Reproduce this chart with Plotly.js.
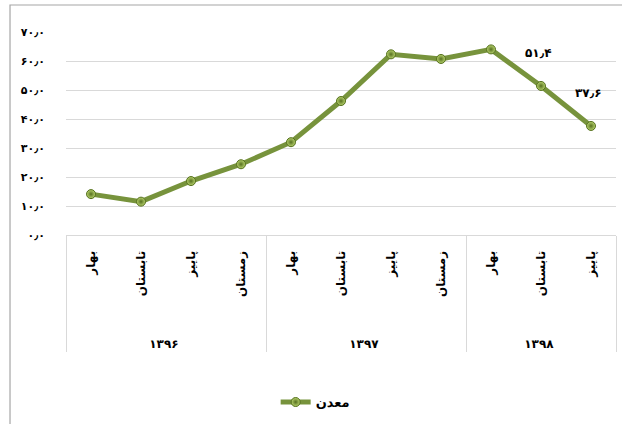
<!DOCTYPE html>
<html>
<head>
<meta charset="utf-8">
<script src="https://cdn.plot.ly/plotly-3.0.1.min.js"></script>
<style>html,body{margin:0;padding:0;background:#fff}#chart{width:622px;height:424px}</style>
</head>
<body>
<div id="chart"></div>
<script>
const years = ["۱۳۹۶","۱۳۹۶","۱۳۹۶","۱۳۹۶","۱۳۹۷","۱۳۹۷","۱۳۹۷","۱۳۹۷","۱۳۹۸","۱۳۹۸","۱۳۹۸"];
const seasons = ["بهار","تابستان","پاییز","زمستان","بهار","تابستان","پاییز","زمستان","بهار","تابستان","پاییز"];
const values = [14.1, 11.5, 18.6, 24.4, 32.0, 46.2, 62.3, 60.7, 64.0, 51.4, 37.6];
const pointLabels = ["","","","","","","","","","۵۱٫۴","۳۷٫۶"];
const seriesName = "معدن";
const yTickVals = [0,10,20,30,40,50,60,70];
const yTickText = ["۰٫۰","۱۰٫۰","۲۰٫۰","۳۰٫۰","۴۰٫۰","۵۰٫۰","۶۰٫۰","۷۰٫۰"];

const FONT = "DejaVu Sans, sans-serif";
const green = "#77933c";
// invisible padding so the category table reaches as deep as in the original
const PAD = "\u00a0".repeat(9);

const trace = {
  type: "scatter",
  mode: "lines+markers",
  x: [years, seasons.map(s => PAD + s)],
  y: values,
  name: seriesName,
  line: {color: green, width: 5},
  marker: {size: 9, color: "#b9d46e", gradient: {type: "radial", color: "#56701f"}, line: {color: "#55701e", width: 1}},
  hoverinfo: "skip"
};

const annotations = [];
values.forEach((v, i) => {
  if (pointLabels[i]) {
    annotations.push({
      x: i, y: v, xref: "x", yref: "y",
      text: "<b>" + pointLabels[i] + "</b>",
      showarrow: false, yshift: 33, xshift: -3,
      font: {family: FONT, size: 12, color: "#000"}
    });
  }
});

const layout = {
  width: 622, height: 424,
  margin: {l: 66, r: 6, t: 32, b: 189},
  paper_bgcolor: "#fff", plot_bgcolor: "#fff",
  showlegend: true,
  legend: {orientation: "h", x: 0.453, xanchor: "center", y: -0.823, yanchor: "middle",
           font: {family: FONT, size: 13, color: "#000", weight: "bold"}},
  xaxis: {
    type: "multicategory",
    automargin: false,
    range: [-0.5, values.length - 0.5],
    showgrid: false,
    showline: true, linecolor: "#d9d9d9", linewidth: 1,
    ticks: "", tickangle: -90,
    ticklabelstandoff: 10,
    showdividers: true, dividercolor: "#d9d9d9", dividerwidth: 1,
    tickfont: {family: FONT, size: 12, color: "#000", weight: "bold"}
  },
  yaxis: {
    automargin: false,
    range: [0, 70],
    tickvals: yTickVals, ticktext: yTickText,
    showgrid: true, gridcolor: "#d9d9d9", gridwidth: 1,
    zeroline: false, showline: false, ticks: "",
    ticklabelstandoff: 20,
    tickfont: {family: FONT, size: 11, color: "#000", weight: "bold"}
  },
  annotations: annotations,
  shapes: [{type: "rect", xref: "paper", yref: "paper", x0: -0.1018, x1: 2, y0: -3, y1: 1.133,
            line: {color: "#a6a6a6", width: 1.2}, fillcolor: "rgba(0,0,0,0)", layer: "below"}]
};

Plotly.newPlot("chart", [trace], layout, {displayModeBar: false, staticPlot: true});
</script>
</body>
</html>
